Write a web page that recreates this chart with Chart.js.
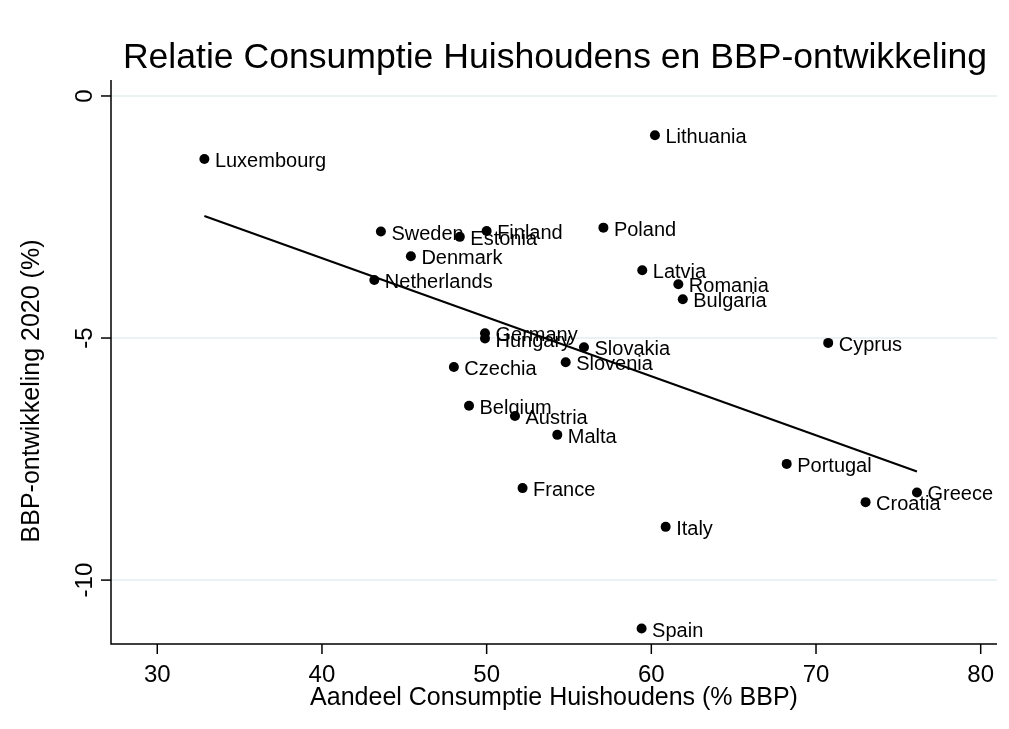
<!DOCTYPE html>
<html>
<head>
<meta charset="utf-8">
<title>Relatie Consumptie Huishoudens en BBP-ontwikkeling</title>
<script src="https://cdn.jsdelivr.net/npm/chart.js@4.4.1/dist/chart.umd.min.js"></script>
<style>
  body { margin: 0; background: #fff; }
  canvas { display: block; }
</style>
</head>
<body>
<canvas id="chart" width="1009" height="729"></canvas>
<script>
// Countries and their values
const countries = [
  "Luxembourg", "Lithuania", "Sweden", "Estonia", "Finland", "Poland",
  "Denmark", "Netherlands", "Latvia", "Romania", "Bulgaria", "Germany",
  "Hungary", "Slovakia", "Cyprus", "Czechia", "Slovenia", "Belgium",
  "Austria", "Malta", "Portugal", "France", "Greece", "Croatia",
  "Italy", "Spain"
];
const consumption = [
  32.86, 60.22, 43.58, 48.37, 50.00, 57.09,
  45.40, 43.18, 59.45, 61.64, 61.91, 49.90,
  49.90, 55.91, 70.74, 48.01, 54.80, 48.93,
  51.72, 54.29, 68.22, 52.18, 76.13, 73.01,
  60.87, 59.41
];
const gdpGrowth = [
  -1.30, -0.81, -2.80, -2.91, -2.79, -2.72,
  -3.31, -3.80, -3.60, -3.89, -4.20, -4.90,
  -5.01, -5.19, -5.10, -5.60, -5.50, -6.40,
  -6.61, -7.00, -7.60, -8.10, -8.19, -8.39,
  -8.90, -11.00
];
const xTicks = [30, 40, 50, 60, 70, 80];
const yTicks = [0, -5, -10];

const FONT = '"Liberation Sans", Arial, sans-serif';

// Linear fit (like Stata lfit), from min x to max x
function linearFit(xs, ys) {
  const n = xs.length;
  const mx = xs.reduce((a, b) => a + b, 0) / n;
  const my = ys.reduce((a, b) => a + b, 0) / n;
  let sxy = 0, sxx = 0;
  xs.forEach((x, i) => {
    sxy += (x - mx) * (ys[i] - my);
    sxx += (x - mx) * (x - mx);
  });
  const slope = sxy / sxx;
  const x0 = Math.min(...xs), x1 = Math.max(...xs);
  return [
    { x: x0, y: my + slope * (x0 - mx) },
    { x: x1, y: my + slope * (x1 - mx) }
  ];
}

const points = countries.map((c, i) => ({ x: consumption[i], y: gdpGrowth[i] }));
const fitLine = linearFit(consumption, gdpGrowth);

// Draws grid, axes, labels and titles in the Stata look
const stataLook = {
  id: "stataLook",
  beforeDatasetsDraw(chart) {
    const { ctx, chartArea: a, scales } = chart;
    ctx.save();
    ctx.strokeStyle = "#eaf2f3";
    ctx.lineWidth = 2;
    yTicks.forEach(v => {
      const y = Math.round(scales.y.getPixelForValue(v));
      ctx.beginPath();
      ctx.moveTo(a.left, y);
      ctx.lineTo(a.right, y);
      ctx.stroke();
    });
    ctx.restore();
  },
  afterDatasetDraw(chart, args) {
    if (args.index !== 0) return;
    const { ctx, scales } = chart;
    ctx.save();
    ctx.fillStyle = "#000";
    ctx.font = "20px " + FONT;
    ctx.textAlign = "left";
    ctx.textBaseline = "alphabetic";
    countries.forEach((c, i) => {
      const px = scales.x.getPixelForValue(consumption[i]);
      const py = scales.y.getPixelForValue(gdpGrowth[i]);
      ctx.fillText(c, px + 10.5, py + 8);
    });
    ctx.restore();
  },
  afterDraw(chart) {
    const { ctx, chartArea: a, scales } = chart;
    ctx.save();
    ctx.strokeStyle = "#000";
    ctx.fillStyle = "#000";
    ctx.lineWidth = 1.5;

    // axis lines
    ctx.beginPath();
    ctx.moveTo(a.left, a.top);
    ctx.lineTo(a.left, a.bottom);
    ctx.lineTo(a.right, a.bottom);
    ctx.stroke();

    // x ticks
    ctx.font = "24px " + FONT;
    ctx.textAlign = "center";
    ctx.textBaseline = "alphabetic";
    xTicks.forEach(v => {
      const x = scales.x.getPixelForValue(v);
      ctx.beginPath();
      ctx.moveTo(x, a.bottom);
      ctx.lineTo(x, a.bottom + 10);
      ctx.stroke();
      ctx.fillText(String(v), x, 682);
    });

    // y ticks, labels turned like the axis title
    yTicks.forEach(v => {
      const y = scales.y.getPixelForValue(v);
      ctx.beginPath();
      ctx.moveTo(a.left, y);
      ctx.lineTo(a.left - 10, y);
      ctx.stroke();
      ctx.save();
      ctx.translate(92, y);
      ctx.rotate(-Math.PI / 2);
      ctx.fillText(String(v), 0, 0);
      ctx.restore();
    });

    // axis titles
    ctx.font = "25px " + FONT;
    ctx.fillText("Aandeel Consumptie Huishoudens (% BBP)", (a.left + a.right) / 2, 705);
    ctx.save();
    ctx.translate(39, 391);
    ctx.rotate(-Math.PI / 2);
    ctx.fillText("BBP-ontwikkeling 2020 (%)", 0, 0);
    ctx.restore();

    // main title
    ctx.font = "35.6px " + FONT;
    ctx.fillText("Relatie Consumptie Huishoudens en BBP-ontwikkeling", (a.left + a.right) / 2 + 1, 68);
    ctx.restore();
  }
};

new Chart(document.getElementById("chart"), {
  type: "scatter",
  data: {
    datasets: [
      {
        data: points,
        backgroundColor: "#000",
        borderWidth: 0,
        pointRadius: 5
      },
      {
        type: "line",
        data: fitLine,
        borderColor: "#000",
        borderWidth: 2,
        pointRadius: 0,
        fill: false
      }
    ]
  },
  options: {
    responsive: false,
    animation: false,
    devicePixelRatio: 1,
    layout: { padding: { left: 111, right: 12, top: 80, bottom: 85 } },
    plugins: { legend: { display: false }, tooltip: { enabled: false } },
    scales: {
      x: { type: "linear", display: false, min: 27.19, max: 80.99 },
      y: { type: "linear", display: false, min: -11.32, max: 0.33 }
    }
  },
  plugins: [stataLook]
});
</script>
</body>
</html>
